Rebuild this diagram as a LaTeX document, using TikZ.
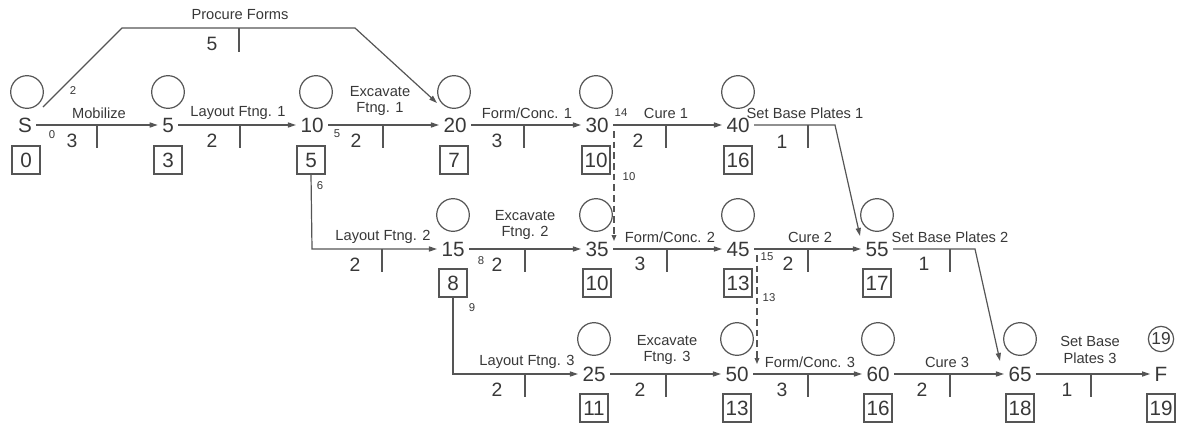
\documentclass[tikz,border=0pt]{standalone}
\usepackage{fontspec}
\setmainfont{Liberation Sans}
\usetikzlibrary{arrows.meta}
\definecolor{ink}{HTML}{383838}
\definecolor{ln}{HTML}{555555}
\begin{document}
\begin{tikzpicture}[x=0.75pt,y=-0.75pt,
  ev/.style={inner sep=3.2pt, text=ink, font=\fontsize{15.5}{15.5}\selectfont},
  circ/.style={circle, draw=ln, line width=0.9pt, minimum size=24.5pt, inner sep=0pt},
  smcirc/.style={circle, draw=ln, line width=0.9pt, minimum size=19pt, inner sep=0pt, text=ink, font=\fontsize{13}{13}\selectfont},
  bx/.style={draw=ln, line width=0.9pt, minimum width=21pt, minimum height=21pt, inner sep=1.5pt, text=ink, font=\fontsize{15.5}{15.5}\selectfont},
  lab/.style={text=ink, font=\fontsize{11}{12.5}\selectfont, align=center, inner sep=0pt},
  dur/.style={text=ink, font=\fontsize{14.5}{14.5}\selectfont, inner sep=0pt},
  sm/.style={text=ink, font=\fontsize{8.5}{8.5}\selectfont, inner sep=0pt},
  act/.style={draw=ln, line width=0.9pt, -{Triangle[length=6pt,width=3.8pt]}},
  tk/.style={draw=ln, line width=0.9pt},
  dsh/.style={draw=ln, line width=0.9pt, dash pattern=on 5pt off 3pt, -{Triangle[length=4.5pt,width=3.5pt]}}
]
\useasboundingbox (0,0) rectangle (1181,425);
% ---------- events row 1
\node[ev] (nS) at (25,125) {S};
\node[circ] (cS) at (27,92) {};
\node[bx] (bS) at (26,160) {0};
\node[ev] (n5) at (168,125) {5};
\node[circ] (c5) at (168,92) {};
\node[bx] (b5) at (168,160) {3};
\node[ev] (n10) at (312,125) {10};
\node[circ] (c10) at (316,92) {};
\node[bx] (b10) at (311,160) {5};
\node[ev] (n20) at (455,125) {20};
\node[circ] (c20) at (454,92) {};
\node[bx] (b20) at (454,160) {7};
\node[ev] (n30) at (597,125) {30};
\node[circ] (c30) at (596,92) {};
\node[bx] (b30) at (596,160) {10};
\node[ev] (n40) at (738,125) {40};
\node[circ] (c40) at (738,92) {};
\node[bx] (b40) at (738,160) {16};
% ---------- events row 2
\node[ev] (n15) at (453,249) {15};
\node[circ] (c15) at (453,215) {};
\node[bx] (b15) at (453,283) {8};
\node[ev] (n35) at (597,249) {35};
\node[circ] (c35) at (596,215) {};
\node[bx] (b35) at (597,283) {10};
\node[ev] (n45) at (738,249) {45};
\node[circ] (c45) at (738,215) {};
\node[bx] (b45) at (738,283) {13};
\node[ev] (n55) at (877,249) {55};
\node[circ] (c55) at (877,215) {};
\node[bx] (b55) at (877,283) {17};
% ---------- events row 3
\node[ev] (n25) at (594,374) {25};
\node[circ] (c25) at (594,339) {};
\node[bx] (b25) at (594,408) {11};
\node[ev] (n50) at (737,374) {50};
\node[circ] (c50) at (737,339) {};
\node[bx] (b50) at (737,408) {13};
\node[ev] (n60) at (878,374) {60};
\node[circ] (c60) at (878,339) {};
\node[bx] (b60) at (878,408) {16};
\node[ev] (n65) at (1020,374) {65};
\node[circ] (c65) at (1020,339) {};
\node[bx] (b65) at (1020,408) {18};
\node[ev] (nF) at (1161,374) {F};
\node[smcirc] (cF) at (1161,339) {19};
\node[bx] (bF) at (1161,408) {19};
% ---------- named bend points
\coordinate (pf0) at (43,107);
\coordinate (pf1) at (122,28);
\coordinate (pf2) at (355,28);
\coordinate (pf3) at (437,103);
\coordinate (sb1) at (835,125);
\coordinate (sb1e) at (860,236);
\coordinate (sb2) at (975,249);
\coordinate (sb2e) at (1000,361);
\coordinate (lf2) at (312,249);
\coordinate (lf3) at (453,374);
\coordinate (d1s) at (614,131);
\coordinate (d1e) at (614,241);
\coordinate (d2s) at (757,255);
\coordinate (d2e) at (757,364);
% ---------- row 1 activities
\draw[act] (nS) -- (n5);
\node[lab] at (99,113) {Mobilize};
\node[dur] at (72,141) {3};
\node[sm] at (52,135) {0};
\draw[tk] (97,125) -- (97,148);

\draw[act] (pf0) -- (pf1) -- (pf2) -- (pf3);
\node[lab] at (240,15) {Procure Forms};
\node[dur] at (212,44) {5};
\node[sm] at (73,91) {2};
\draw[tk] (239,28) -- (239,52);

\draw[act] (n5) -- (n10);
\node[lab] at (238,113) {Layout Ftng. 1};
\node[dur] at (212,141) {2};
\draw[tk] (240,125) -- (240,148);

\draw[act] (n10) -- (n20);
\node[lab] at (380,101) {Excavate\\Ftng. 1};
\node[dur] at (356,141) {2};
\node[sm] at (337,134) {5};
\draw[tk] (383,125) -- (383,148);

\draw[act] (n20) -- (n30);
\node[lab] at (527,113) {Form/Conc. 1};
\node[dur] at (497,141) {3};
\draw[tk] (524,125) -- (524,148);

\draw[act] (n30) -- (n40);
\node[lab] at (666,113) {Cure 1};
\node[dur] at (638,141) {2};
\node[sm] at (621,113) {14};
\draw[tk] (666,125) -- (666,148);

\draw[act] (n40) -- (sb1) -- (sb1e);
\node[lab] at (805,113) {Set Base Plates 1};
\node[dur] at (782,142) {1};
\draw[tk] (808,125) -- (808,148);

\draw[dsh] (d1s) -- (d1e);
\node[sm] at (629,177) {10};
% ---------- row 2 activities
\draw[act] (b10.south) -- (lf2) -- (n15);
\node[sm] at (320,186) {6};
\node[lab] at (383,237) {Layout Ftng. 2};
\node[dur] at (355,265) {2};
\draw[tk] (382,249) -- (382,272);

\draw[act] (n15) -- (n35);
\node[lab] at (525,225) {Excavate\\Ftng. 2};
\node[dur] at (497,265) {2};
\node[sm] at (481,261) {8};
\draw[tk] (525,249) -- (525,272);

\draw[act] (n35) -- (n45);
\node[lab] at (670,237) {Form/Conc. 2};
\node[dur] at (640,264) {3};
\draw[tk] (667,249) -- (667,272);

\draw[act] (n45) -- (n55);
\node[lab] at (810,237) {Cure 2};
\node[dur] at (788,264) {2};
\node[sm] at (767,257) {15};
\draw[tk] (808,249) -- (808,272);

\draw[act] (n55) -- (sb2) -- (sb2e);
\node[lab] at (950,237) {Set Base Plates 2};
\node[dur] at (924,264) {1};
\draw[tk] (950,249) -- (950,272);

\draw[dsh] (d2s) -- (d2e);
\node[sm] at (769,298) {13};
% ---------- row 3 activities
\draw[act] (b15.south) -- (lf3) -- (n25);
\node[sm] at (472,308) {9};
\node[lab] at (527,362) {Layout Ftng. 3};
\node[dur] at (497,390) {2};
\draw[tk] (525,374) -- (525,397);

\draw[act] (n25) -- (n50);
\node[lab] at (667,350) {Excavate\\Ftng. 3};
\node[dur] at (640,390) {2};
\draw[tk] (666,374) -- (666,397);

\draw[act] (n50) -- (n60);
\node[lab] at (810,362) {Form/Conc. 3};
\node[dur] at (782,390) {3};
\draw[tk] (808,374) -- (808,397);

\draw[act] (n60) -- (n65);
\node[lab] at (947,362) {Cure 3};
\node[dur] at (922,390) {2};
\draw[tk] (950,374) -- (950,397);

\draw[act] (n65) -- (nF);
\node[lab] at (1090,350) {Set Base\\Plates 3};
\node[dur] at (1067,390) {1};
\draw[tk] (1091,374) -- (1091,397);
\end{tikzpicture}
\end{document}
